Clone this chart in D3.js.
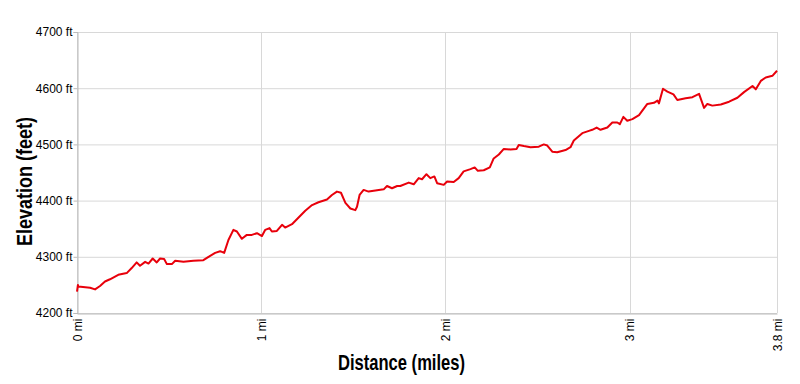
<!DOCTYPE html>
<html><head><meta charset="utf-8">
<script src="https://cdn.jsdelivr.net/npm/d3@7"></script>
<style>body{margin:0;background:#fff}svg{display:block}</style>
</head><body><svg id="c" width="800" height="384"></svg>
<script>
const distance = [0,0.005,0.007,0.071,0.098,0.125,0.152,0.179,0.224,0.270,0.297,0.324,0.342,0.370,0.388,0.411,0.433,0.451,0.473,0.488,0.515,0.533,0.578,0.632,0.686,0.714,0.750,0.777,0.799,0.822,0.849,0.868,0.895,0.922,0.949,0.977,1.004,1.022,1.045,1.058,1.085,1.113,1.130,1.167,1.203,1.239,1.276,1.311,1.357,1.384,1.411,1.433,1.457,1.484,1.511,1.520,1.534,1.556,1.583,1.620,1.665,1.683,1.710,1.738,1.755,1.801,1.828,1.855,1.873,1.897,1.918,1.940,1.955,1.991,2.009,2.045,2.072,2.099,2.136,2.159,2.176,2.208,2.241,2.262,2.290,2.317,2.353,2.386,2.398,2.426,2.462,2.507,2.534,2.553,2.580,2.607,2.652,2.679,2.697,2.743,2.779,2.797,2.821,2.842,2.879,2.906,2.933,2.947,2.966,2.987,3.015,3.051,3.096,3.132,3.151,3.159,3.181,3.205,3.238,3.259,3.304,3.341,3.377,3.404,3.422,3.449,3.495,3.540,3.585,3.621,3.667,3.685,3.712,3.739,3.775,3.8];
const elevation = [4238,4250,4247,4245,4242,4248,4256,4260,4268,4271,4280,4290,4284,4291,4288,4297,4290,4297,4296,4287,4287,4293,4291,4293,4294,4300,4307,4310,4307,4330,4348,4345,4332,4339,4339,4342,4337,4348,4351,4345,4346,4357,4352,4358,4370,4382,4392,4397,4402,4410,4416,4414,4396,4386,4383,4389,4410,4419,4416,4418,4420,4426,4422,4426,4426,4432,4429,4440,4438,4447,4440,4443,4431,4428,4434,4433,4440,4452,4456,4459,4453,4454,4459,4475,4482,4492,4491,4492,4499,4497,4495,4496,4500,4498,4487,4486,4490,4495,4507,4520,4524,4526,4530,4526,4530,4539,4539,4536,4549,4542,4545,4552,4572,4574,4578,4573,4599,4594,4589,4579,4582,4584,4590,4565,4572,4569,4571,4576,4583,4593,4604,4598,4613,4619,4622,4631];
const xTicks = [0,1,2,3,3.8];
const xTickLabels = ["0 mi","1 mi","2 mi","3 mi","3.8 mi"];
const yTicks = [4200,4300,4400,4500,4600,4700];
const yTickLabels = ["4200 ft","4300 ft","4400 ft","4500 ft","4600 ft","4700 ft"];

const svg = d3.select("#c");
const L=77, R=777, T=32, B=313;
const x = d3.scaleLinear().domain([0,3.8]).range([L,R]);
const y = d3.scaleLinear().domain([4200,4700]).range([B,T]);
const grid="#d8d8d8";

// grid
svg.append("g").selectAll("line").data(yTicks).join("line")
  .attr("x1",L).attr("x2",R).attr("y1",d=>y(d)+0.5).attr("y2",d=>y(d)+0.5)
  .attr("stroke",grid).attr("stroke-width",1);
svg.append("g").selectAll("line").data(xTicks).join("line")
  .attr("y1",T).attr("y2",B).attr("x1",d=>Math.round(x(d))+0.5).attr("x2",d=>Math.round(x(d))+0.5)
  .attr("stroke",grid).attr("stroke-width",1);

// axes
const yAxis = d3.axisLeft(y).tickValues(yTicks).tickFormat((d,i)=>yTickLabels[i]).tickSize(4).tickPadding(1);
const gy = svg.append("g").attr("transform",`translate(${L+0.5},0)`).call(yAxis);
gy.select(".domain").attr("stroke","#bbb");
gy.selectAll(".tick line").attr("stroke","#bbb");
gy.selectAll("text").attr("font-family","Liberation Sans, Arial, sans-serif").attr("font-size",12).attr("fill","#000");

const xAxis = d3.axisBottom(x).tickValues(xTicks).tickFormat((d,i)=>xTickLabels[i]).tickSize(0);
const gx = svg.append("g").attr("transform",`translate(0,${B+0.5})`).call(xAxis);
gx.select(".domain").attr("stroke","#bbb");
gx.selectAll("text").attr("font-family","Liberation Sans, Arial, sans-serif").attr("font-size",12).attr("fill","#000")
  .attr("transform","rotate(-90)").attr("text-anchor","end").attr("dy","0.35em").attr("y",0).attr("x",-5);

// line
const line = d3.line().x((d,i)=>x(distance[i])).y(d=>y(d));
svg.append("path").datum(elevation).attr("d",line).attr("fill","none")
  .attr("stroke","#e8000b").attr("stroke-width",2).attr("stroke-linejoin","round");

// titles
svg.append("text").attr("x",401.5).attr("y",370).attr("text-anchor","middle")
  .attr("font-family","Liberation Sans, Arial, sans-serif").attr("font-weight","bold").attr("font-size",22)
  .attr("textLength",127).attr("lengthAdjust","spacingAndGlyphs")
  .text("Distance (miles)");
svg.append("text").attr("transform","translate(31.5,181.5) rotate(-90)").attr("text-anchor","middle")
  .attr("font-family","Liberation Sans, Arial, sans-serif").attr("font-weight","bold").attr("font-size",22)
  .attr("textLength",129).attr("lengthAdjust","spacingAndGlyphs")
  .text("Elevation (feet)");
</script></body></html>
